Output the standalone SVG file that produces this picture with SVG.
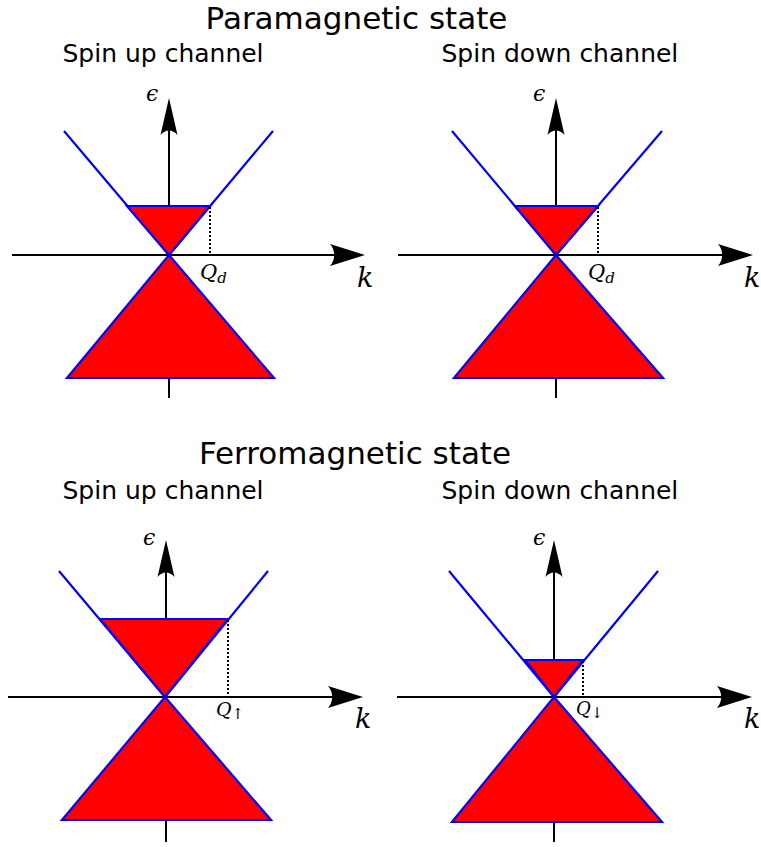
<svg xmlns="http://www.w3.org/2000/svg" xmlns:xlink="http://www.w3.org/1999/xlink" width="761" height="847" viewBox="0 0 761 847">
<style>
.title{font-family:"DejaVu Sans",sans-serif;font-size:31px;fill:#000;text-anchor:middle}
.sub{font-family:"DejaVu Sans",sans-serif;font-size:25px;fill:#000}
.math{font-family:"DejaVu Serif","Liberation Serif",serif;font-style:italic;fill:#000}
.axis{stroke:#000;stroke-width:2;fill:none}
.band{stroke:#0000ff;stroke-width:2.2;fill:none}
.fill{fill:#ff0000;stroke:#0000ff;stroke-width:2.2;stroke-linejoin:miter}
.dot{stroke:#000;stroke-width:2;stroke-dasharray:2 2;fill:none}
</style>
<defs>
<path id="ahH" d="M0,0 L-35,-11 C-29.4,-4.5 -29.4,4.5 -35,11 Z" fill="#000"/>
<path id="ahV" d="M0,0 L-8.5,37 C-3.5,31 3.5,31 8.5,37 Z" fill="#000"/>
</defs>

<text class="title" x="356.5" y="29">Paramagnetic state</text>
<text class="title" x="355" y="464">Ferromagnetic state</text>
<text class="sub" x="62.5" y="62">Spin up channel</text>
<text class="sub" x="441.5" y="62">Spin down channel</text>
<text class="sub" x="62.5" y="498.5">Spin up channel</text>
<text class="sub" x="441.5" y="498.5">Spin down channel</text>

<g id="panel-para-up">
<g class="connectors">
<line class="axis" x1="169" y1="398" x2="169" y2="110"/>
<use xlink:href="#ahV" x="169" y="98"/>
<line class="axis" x1="12" y1="255" x2="352" y2="255"/>
<use xlink:href="#ahH" x="365" y="255"/>
</g>
<polyline class="band" points="64,131 169,255 273,131"/>
<polygon class="fill" points="127,206 210,206 169,255"/>
<polygon class="fill" points="169,255 274,378 67,378"/>
<line class="dot" x1="210" y1="207" x2="210" y2="255"/>
<text class="math" x="146" y="101" font-size="22">ϵ</text>
<text class="math" x="200" y="279" font-size="21">Q<tspan font-size="15" dy="4">d</tspan></text>
<text class="math" x="357" y="287" font-size="27">k</text>
</g>

<g id="panel-para-down">
<g class="connectors">
<line class="axis" x1="556" y1="398" x2="556" y2="110"/>
<use xlink:href="#ahV" x="556" y="98"/>
<line class="axis" x1="398" y1="255" x2="740" y2="255"/>
<use xlink:href="#ahH" x="753" y="255"/>
</g>
<polyline class="band" points="452,131 556,255 662,131"/>
<polygon class="fill" points="515,206 598,206 556,255"/>
<polygon class="fill" points="556,255 663,378 454,378"/>
<line class="dot" x1="598" y1="207" x2="598" y2="255"/>
<text class="math" x="533" y="101" font-size="22">ϵ</text>
<text class="math" x="588" y="279" font-size="21">Q<tspan font-size="15" dy="4">d</tspan></text>
<text class="math" x="744" y="287" font-size="27">k</text>
</g>

<g id="panel-ferro-up">
<g class="connectors">
<line class="axis" x1="166" y1="842" x2="166" y2="552"/>
<use xlink:href="#ahV" x="166" y="540"/>
<line class="axis" x1="8" y1="697" x2="350" y2="697"/>
<use xlink:href="#ahH" x="363" y="697"/>
</g>
<polyline class="band" points="59,571 165,697 268,571"/>
<polygon class="fill" points="100,619 228,619 165,697"/>
<polygon class="fill" points="165,697 271,820 62,820"/>
<line class="dot" x1="228" y1="620" x2="228" y2="697"/>
<text class="math" x="143" y="545" font-size="22">ϵ</text>
<text class="math" x="216" y="716" font-size="19">Q<tspan font-size="15" dy="3" font-style="normal">↑</tspan></text>
<text class="math" x="355" y="728" font-size="27">k</text>
</g>

<g id="panel-ferro-down">
<g class="connectors">
<line class="axis" x1="554" y1="842" x2="554" y2="552"/>
<use xlink:href="#ahV" x="554" y="540"/>
<line class="axis" x1="397" y1="697" x2="739" y2="697"/>
<use xlink:href="#ahH" x="752" y="697"/>
</g>
<polyline class="band" points="449,571 554,697 658,571"/>
<polygon class="fill" points="525,660 583,660 554,697"/>
<polygon class="fill" points="554,697 662,822 452,822"/>
<line class="dot" x1="583" y1="661" x2="583" y2="697"/>
<text class="math" x="533" y="545" font-size="22">ϵ</text>
<text class="math" x="576" y="715" font-size="18">Q<tspan font-size="15" dy="3" font-style="normal">↓</tspan></text>
<text class="math" x="744" y="728" font-size="27">k</text>
</g>
</svg>
